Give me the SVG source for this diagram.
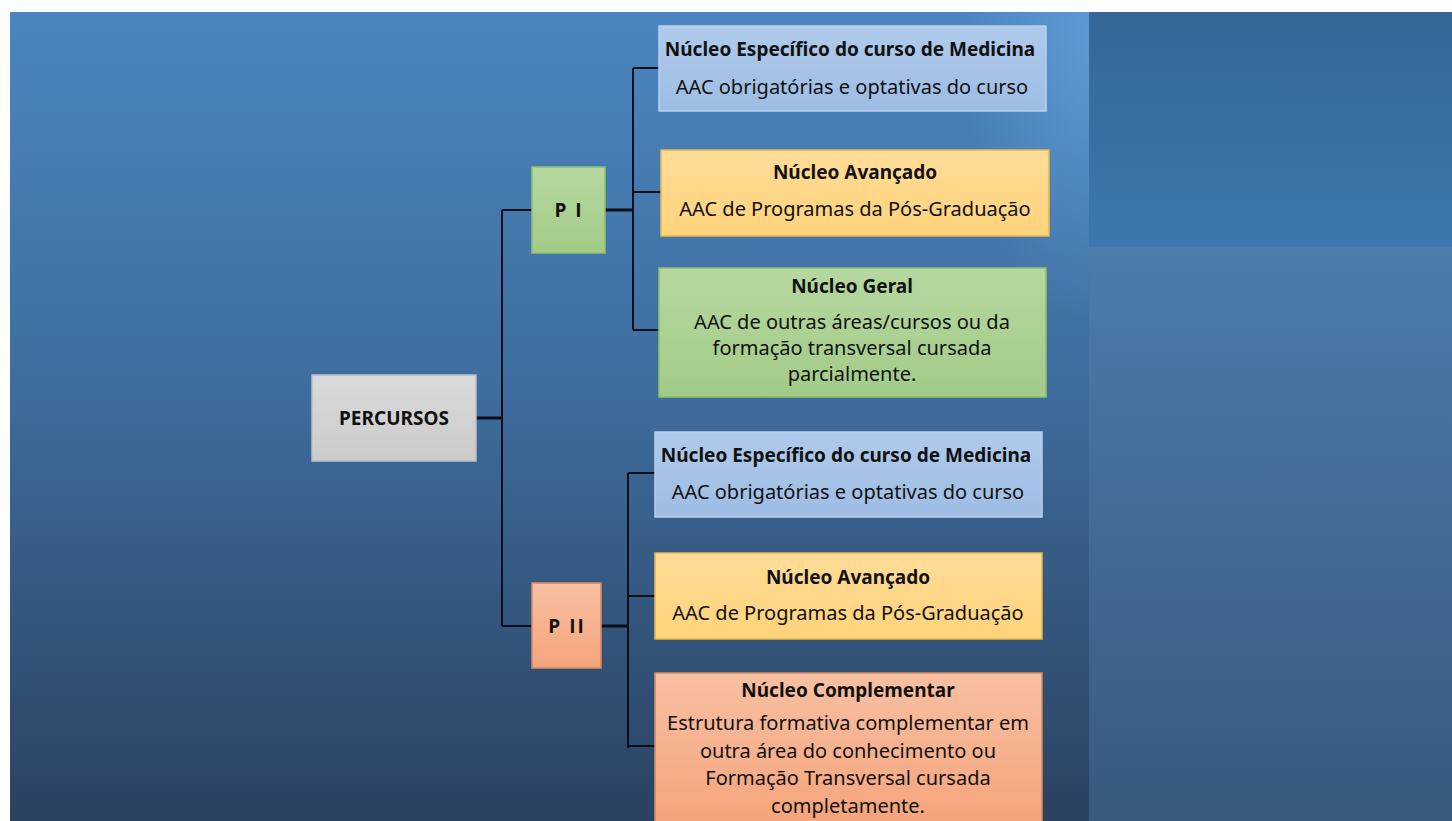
<svg xmlns="http://www.w3.org/2000/svg" width="1452" height="821" viewBox="0 0 1452 821">
<defs>
<linearGradient id="bgL" x1="0" y1="0" x2="0" y2="1">
<stop offset="0" stop-color="#4b86c0"/>
<stop offset="0.45" stop-color="#3f6e9f"/>
<stop offset="1" stop-color="#2b4260"/>
</linearGradient>
<radialGradient id="bgHi" gradientUnits="userSpaceOnUse" cx="1089" cy="40" r="280" gradientTransform="translate(1089 40) scale(0.45 1) translate(-1089 -40)">
<stop offset="0" stop-color="#6aaae6" stop-opacity="0.55"/>
<stop offset="1" stop-color="#6aaae6" stop-opacity="0"/>
</radialGradient>
<linearGradient id="bgR1" x1="0" y1="0" x2="0" y2="1">
<stop offset="0" stop-color="#346796"/>
<stop offset="1" stop-color="#3e78ae"/>
</linearGradient>
<linearGradient id="bgR2" x1="0" y1="0" x2="0" y2="1">
<stop offset="0" stop-color="#4c7cac"/>
<stop offset="1" stop-color="#39597e"/>
</linearGradient>
<linearGradient id="gBlue" x1="0" y1="0" x2="0" y2="1">
<stop offset="0" stop-color="#afcaeb"/>
<stop offset="1" stop-color="#9ebde4"/>
</linearGradient>
<linearGradient id="gOrange" x1="0" y1="0" x2="0" y2="1">
<stop offset="0" stop-color="#ffdc98"/>
<stop offset="1" stop-color="#ffd37a"/>
</linearGradient>
<linearGradient id="gGreen" x1="0" y1="0" x2="0" y2="1">
<stop offset="0" stop-color="#b6d8a0"/>
<stop offset="1" stop-color="#a2cb87"/>
</linearGradient>
<linearGradient id="gSalmon" x1="0" y1="0" x2="0" y2="1">
<stop offset="0" stop-color="#f8c0a2"/>
<stop offset="1" stop-color="#f5a47c"/>
</linearGradient>
<linearGradient id="gGray" x1="0" y1="0" x2="0" y2="1">
<stop offset="0" stop-color="#dadada"/>
<stop offset="1" stop-color="#cbcbcb"/>
</linearGradient>
<style>
.t{font-family:"Noto Sans","Open Sans",sans-serif;fill:#111;text-anchor:middle}
.b{font-weight:bold;font-size:19px}
.r{font-size:20px}
.p{font-family:"Open Sans","Noto Sans",sans-serif;letter-spacing:2px}
.blue{fill:url(#gBlue);stroke:#b8d0ee;stroke-width:1.5}
.orange{fill:url(#gOrange);stroke:#e9b84e;stroke-width:1.5}
.green{fill:url(#gGreen);stroke:#8fc06e;stroke-width:1.5}
.salmon{fill:url(#gSalmon);stroke:#d98a62;stroke-width:1.5}
.gray{fill:url(#gGray);stroke:#b9c0c8;stroke-width:1.5}
.c{fill:none;stroke:#0a0f1a;stroke-width:2}
.ct{fill:none;stroke:#0a0f1a;stroke-width:3}
</style>
</defs>
<rect x="0" y="0" width="1452" height="821" fill="#ffffff"/>
<rect x="10" y="12" width="1079" height="809" fill="url(#bgL)"/>
<rect x="700" y="12" width="389" height="400" fill="url(#bgHi)"/>
<rect x="1089" y="12" width="363" height="235" fill="url(#bgR1)"/>
<rect x="1089" y="247" width="363" height="574" fill="url(#bgR2)"/>

<g id="connectors">
<path class="ct" d="M476,418 H502"/>
<path class="c" d="M502,210 V626 M502,210 H532 M502,626 H532"/>
<path class="ct" d="M605,210 H633"/>
<path class="c" d="M633,68 V330 M633,68 H659 M633,192 H661 M633,330 H659"/>
<path class="ct" d="M601,626 H628"/>
<path class="c" d="M628,473 V748 M628,473 H655 M628,596 H655 M628,746 H655"/>
</g>

<g id="percursos">
<rect class="gray" x="312" y="375" width="164" height="86"/>
<text class="t b" x="394" y="425">PERCURSOS</text>
</g>
<g id="p1">
<rect class="green" x="532" y="167" width="73" height="86"/>
<text class="t b p" x="569" y="217">P I</text>
</g>
<g id="p2">
<rect class="salmon" x="532" y="583" width="69" height="85"/>
<text class="t b p" x="567" y="633">P II</text>
</g>

<g id="n1">
<rect class="blue" x="659" y="26" width="387" height="85"/>
<text class="t b" x="850" y="56">Núcleo Específico do curso de Medicina</text>
<text class="t r" x="852" y="94">AAC obrigatórias e optativas do curso</text>
</g>
<g id="n2">
<rect class="orange" x="661" y="150" width="388" height="86"/>
<text class="t b" x="855" y="179">Núcleo Avançado</text>
<text class="t r" x="855" y="216">AAC de Programas da Pós-Graduação</text>
</g>
<g id="n3">
<rect class="green" x="659" y="268" width="387" height="129"/>
<text class="t b" x="852" y="293">Núcleo Geral</text>
<text class="t r" x="852" y="329">AAC de outras áreas/cursos ou da</text>
<text class="t r" x="852" y="355">formação transversal cursada</text>
<text class="t r" x="852" y="381">parcialmente.</text>
</g>
<g id="n4">
<rect class="blue" x="655" y="432" width="387" height="85"/>
<text class="t b" x="846" y="462">Núcleo Específico do curso de Medicina</text>
<text class="t r" x="848" y="499">AAC obrigatórias e optativas do curso</text>
</g>
<g id="n5">
<rect class="orange" x="655" y="553" width="387" height="86"/>
<text class="t b" x="848" y="584">Núcleo Avançado</text>
<text class="t r" x="848" y="620">AAC de Programas da Pós-Graduação</text>
</g>
<g id="n6">
<rect class="salmon" x="655" y="673" width="387" height="150"/>
<text class="t b" x="848" y="697">Núcleo Complementar</text>
<text class="t r" x="848" y="730">Estrutura formativa complementar em</text>
<text class="t r" x="848" y="758">outra área do conhecimento ou</text>
<text class="t r" x="848" y="785">Formação Transversal cursada</text>
<text class="t r" x="848" y="813">completamente.</text>
</g>
</svg>
